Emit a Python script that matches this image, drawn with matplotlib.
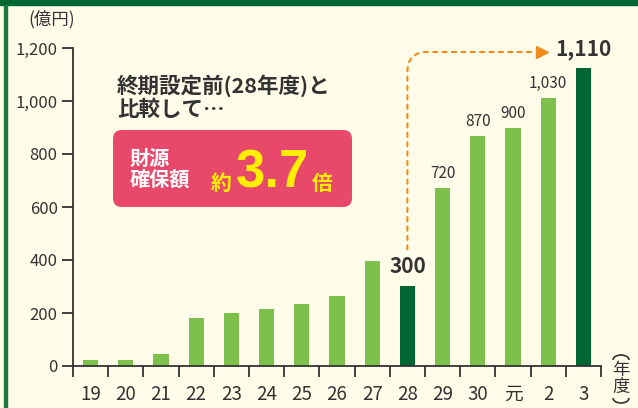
import matplotlib
matplotlib.use('Agg')
import matplotlib.pyplot as plt
from matplotlib.patches import FancyBboxPatch, Rectangle, Arc

plt.rcParams['font.family'] = ['Noto Sans CJK JP', 'DejaVu Sans']

# データ(億円)
nendo = ['19', '20', '21', '22', '23', '24', '25', '26', '27', '28', '29', '30', '元', '2', '3']
kingaku = [23, 23, 46, 182, 201, 216, 235, 265, 398, 303, 672, 868, 900, 1013, 1123]
raberu = ['', '', '', '', '', '', '', '', '', '300', '720', '870', '900', '1,030', '1,110']
kyocho = ['28', '3']   # 濃い緑で強調する年度

bg = '#FFFDE9'
midori = '#7DC04B'
koimidori = '#006633'
moji = '#333333'

fig = plt.figure(figsize=(6.38, 4.08), dpi=100, facecolor=bg)
ax = fig.add_axes([73/638, 1 - 366/408, 528/638, 318/408])
ax.set_facecolor(bg)

# 枠の装飾
fig.patches.append(Rectangle((0, 1 - 5/408), 1, 5/408, transform=fig.transFigure,
                             color=koimidori, zorder=0))
fig.patches.append(Rectangle((4/638, 0), 3/638, 1 - 5/408, transform=fig.transFigure,
                             color='#1E7A3E', zorder=0))

x = list(range(len(nendo)))
iro = [koimidori if n in kyocho else midori for n in nendo]
ax.bar(x, kingaku, width=0.43, color=iro, zorder=2)

for i, (v, lab) in enumerate(zip(kingaku, raberu)):
    if not lab:
        continue
    if nendo[i] in kyocho:
        ax.annotate(lab, (i, v), xytext=(0, 6), textcoords='offset points',
                    ha='center', va='bottom', fontsize=15, fontweight='bold', color=moji)
    else:
        ax.annotate(lab, (i, v), xytext=(0, 4), textcoords='offset points',
                    ha='center', va='bottom', fontsize=11, color=moji)

ax.set_xlim(-0.5, len(nendo) - 0.5)
ax.set_ylim(0, 1200)
ax.set_yticks(range(0, 1201, 200))
ax.set_yticklabels([f'{v:,}' for v in range(0, 1201, 200)], fontsize=12, color=moji)
ax.set_xticks(x)
ax.set_xticklabels(nendo, fontsize=13.5, color=moji)
ax.set_xticks([i - 0.5 for i in range(len(nendo) + 1)], minor=True)
ax.tick_params(axis='x', which='major', length=0, pad=13)
ax.tick_params(axis='x', which='minor', length=8, width=1.3, color=moji, direction='out')
ax.tick_params(axis='y', length=8, width=1.3, color=moji, pad=3)
for s in ['top', 'right']:
    ax.spines[s].set_visible(False)
for s in ['left', 'bottom']:
    ax.spines[s].set_color(moji)
    ax.spines[s].set_linewidth(1.3)

# 破線の矢印 (28年度 → 3年度)
ax.annotate('', xy=(12.65, 1185), xytext=(9, 440),
            arrowprops=dict(arrowstyle='-', color='#F08C1E', lw=1.5, linestyle=(0, (2, 2.5)),
                            connectionstyle='angle,angleA=90,angleB=0,rad=20',
                            shrinkA=0, shrinkB=0))
ax.plot([12.82], [1185], marker='>', markersize=9, color='#F08C1E', clip_on=False)

# 文字
fig.text(28/638, 1 - 19/408, '(億円)', fontsize=12.5, color=moji, va='center')
fig.text(117/638, 1 - 97/408, '終期設定前(28年度)と\n比較して…', fontsize=15.5, fontweight='bold',
         color=moji, va='center', linespacing=1.1)

box = FancyBboxPatch((113/638, 1 - 207/408), 239/638, 77/408, transform=fig.transFigure,
                     boxstyle='round,pad=0,rounding_size=0.014', mutation_aspect=638/408,
                     facecolor='#E8486A', edgecolor='none')
fig.patches.append(box)
fig.text(130/638, 1 - 169/408, '財源\n確保額', fontsize=14.5, fontweight='bold', color='white',
         va='center', linespacing=1.0)
fig.text(211/638, 1 - 190/408, '約', fontsize=15, fontweight='bold', color='#FFEE00', va='baseline')
fig.text(236/638, 1 - 188/408, '3.7', fontsize=38, fontweight='bold', color='#FFEE00',
         va='baseline', family='Liberation Sans')
fig.text(312/638, 1 - 190/408, '倍', fontsize=15, fontweight='bold', color='#FFEE00', va='baseline')

# 縦書きの(年度): 括弧は弧で描く
cx = 621
fig.patches.append(Arc((cx, 408 - 360), 16, 10, theta1=0, theta2=180, transform=None,
                       color=moji, lw=1.2))
fig.patches.append(Arc((cx, 408 - 398), 16, 10, theta1=180, theta2=360, transform=None,
                       color=moji, lw=1.2))
fig.text(cx/638, 1 - 370/408, '年', fontsize=12.5, color=moji, ha='center', va='center')
fig.text(cx/638, 1 - 387/408, '度', fontsize=12.5, color=moji, ha='center', va='center')

fig.savefig('out.png', dpi=100, facecolor=bg)
